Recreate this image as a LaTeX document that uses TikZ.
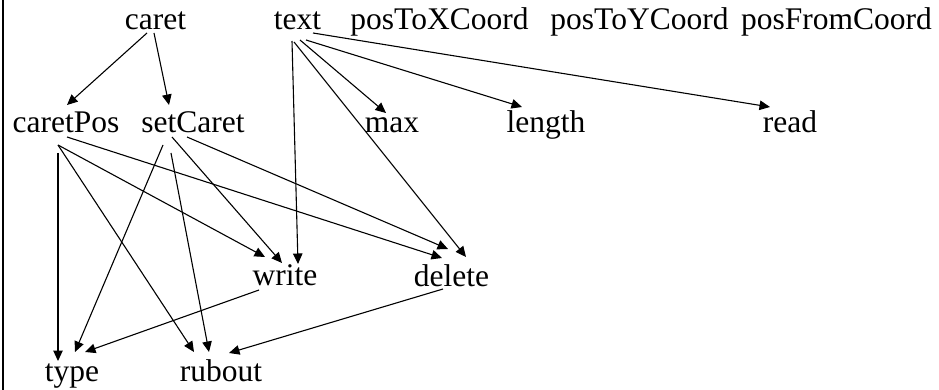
\documentclass[tikz,border=0pt]{standalone}
\usepackage{fontspec}
\setmainfont{Liberation Serif}
\usetikzlibrary{arrows.meta}
\tikzset{
  lbl/.style={inner sep=0pt, anchor=base, font=\fontsize{31.5}{36}\selectfont},
  dep/.style={line width=1.1pt, -{Triangle[length=10.5pt,width=9.5pt]}}
}
\begin{document}
\begin{tikzpicture}[x=1pt,y=-1pt]
\useasboundingbox (0,0) rectangle (939,390);
\draw[line width=2.5pt] (3,0) -- (3,390);
% row 1
\node[lbl] (caret) at (155.5,30) {caret};
\node[lbl] (text) at (297.5,30) {text};
\node[lbl] (posx) at (439.5,30) {posToXCoord};
\node[lbl] (posy) at (639.5,30) {posToYCoord};
\node[lbl] (posf) at (836.5,30) {posFromCoord};
% row 2
\node[lbl] (caretPos) at (66,133) {caretPos};
\node[lbl] (setCaret) at (193,133) {setCaret};
\node[lbl] (max) at (392,133) {max};
\node[lbl] (length) at (546,133) {length};
\node[lbl] (read) at (790,133) {read};
% row 3
\node[lbl] (write) at (285,285) {write};
\node[lbl] (delete) at (451.5,286) {delete};
% row 4
\node[lbl] (type) at (72,381) {type};
\node[lbl] (rubout) at (221,381) {rubout};
% edges
\draw[dep] ([shift={(-8.5,3)}]caret.base) -- ([shift={(1,-28)}]caretPos.base);
\draw[dep] ([shift={(-1.5,3)}]caret.base) -- ([shift={(-24,-28)}]setCaret.base);
\draw[dep] ([shift={(-5.5,11)}]text.base) -- ([shift={(13,-21)}]write.base);
\draw[dep] ([shift={(2.5,10)}]text.base) -- ([shift={(-6,-20)}]max.base);
\draw[dep] ([shift={(-3.5,12)}]text.base) -- ([shift={(14.5,-29)}]delete.base);
\draw[dep] ([shift={(8.5,10)}]text.base) -- ([shift={(-24,-26)}]length.base);
\draw[dep] ([shift={(15.5,3)}]text.base) -- ([shift={(-20,-26)}]read.base);
\draw[dep] ([shift={(-8,20)}]caretPos.base) -- ([shift={(-14,-20)}]type.base);
\draw[dep] ([shift={(-8,12)}]caretPos.base) -- ([shift={(-27,-29)}]rubout.base);
\draw[dep] ([shift={(-8,12)}]caretPos.base) -- ([shift={(-20,-28)}]write.base);
\draw[dep] ([shift={(1,4)}]caretPos.base) -- ([shift={(-9.5,-28)}]delete.base);
\draw[dep] ([shift={(-30,12)}]setCaret.base) -- ([shift={(3,-29)}]type.base);
\draw[dep] ([shift={(-22,20)}]setCaret.base) -- ([shift={(-12,-29)}]rubout.base);
\draw[dep] ([shift={(-21,4)}]setCaret.base) -- ([shift={(-3,-22)}]write.base);
\draw[dep] ([shift={(-6,4)}]setCaret.base) -- ([shift={(-3.5,-37)}]delete.base);
\draw[dep] ([shift={(-26,5)}]write.base) -- ([shift={(13,-29)}]type.base);
\draw[dep] ([shift={(-8.5,3)}]delete.base) -- ([shift={(8,-28)}]rubout.base);
\end{tikzpicture}
\end{document}
